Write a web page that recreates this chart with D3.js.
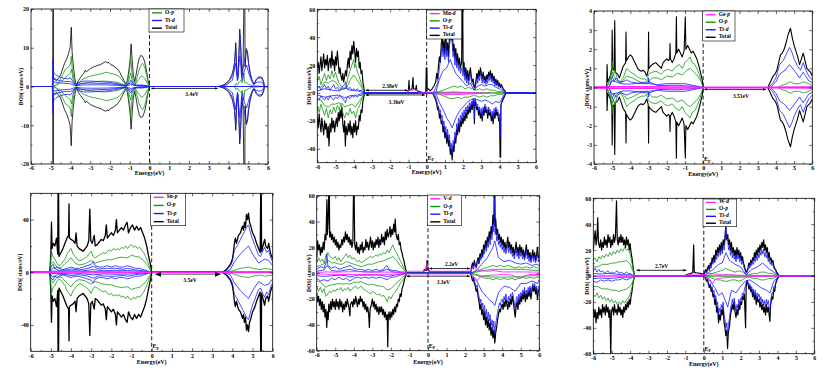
<!DOCTYPE html>
<html>
<head>
<meta charset="utf-8">
<script src="https://cdn.jsdelivr.net/npm/d3@7"></script>
<style>
body { margin: 0; background: #fff; }
svg { display: block; }
text { font-family: "Liberation Serif", "Times New Roman", serif; font-weight: bold; }
</style>
</head>
<body>
<script>
const W = 831, H = 378

// ---- energies shared by every panel (eV)
const xTicks = [-6,-5,-4,-3,-2,-1,0,1,2,3,4,5,6]
const xMinor = [-5.5,-4.5,-3.5,-2.5,-1.5,-0.5,0.5,1.5,2.5,3.5,4.5,5.5]

// ---- panel 1 : TiO2 (non magnetic, spin down mirrors spin up)
const p1Total = [[-6,0],[-4.9,0],[-4.89,30],[-4.87,30],[-4.86,2],[-4.7,1.5],[-4.6,2.2],[-4.5,3],[-4.4,4.5],[-4.3,6],[-4.2,7],[-4.1,8.5],[-4.02,10],[-3.96,15.3],[-3.92,9],[-3.85,5],[-3.78,2],[-3.7,0.4],[-3.6,1.5],[-3.5,2.3],[-3.4,3],[-3.3,3.6],[-3.25,4.2],[-3.2,3.8],[-3.1,4.2],[-3.0,4.6],[-2.9,4.9],[-2.8,5.1],[-2.7,5.3],[-2.6,5.5],[-2.5,5.6],[-2.4,5.9],[-2.3,6.2],[-2.22,6.4],[-2.15,6.1],[-2.05,6.2],[-1.95,5.6],[-1.85,5.4],[-1.75,5.0],[-1.6,4.4],[-1.5,3.6],[-1.4,2.6],[-1.3,1.6],[-1.2,0.7],[-1.12,1.5],[-1.05,4],[-0.98,7],[-0.93,11],[-0.88,7],[-0.82,3],[-0.75,1.2],[-0.68,3],[-0.6,5.5],[-0.52,7.2],[-0.45,8],[-0.35,7.8],[-0.25,6.5],[-0.15,4],[-0.07,1.5],[0,0],[3.5,0],[3.7,0.3],[3.9,0.9],[4.05,1.8],[4.2,3.5],[4.3,6],[4.37,11.3],[4.42,4],[4.47,2],[4.52,8],[4.57,14.8],[4.62,10],[4.68,3],[4.74,6],[4.8,30],[4.82,30],[4.84,5],[4.9,9.8],[4.96,9],[5.02,6],[5.1,3.5],[5.2,1.5],[5.3,0.6],[5.4,1.8],[5.5,2.4],[5.6,2.5],[5.7,2.3],[5.78,1.2],[5.82,0],[6,0]]
const p1Op = [[-6,0],[-4.85,0],[-4.7,0.6],[-4.55,1.5],[-4.4,3],[-4.25,4.5],[-4.1,5],[-4.0,5.8],[-3.96,7.8],[-3.9,4],[-3.8,1.5],[-3.7,0.2],[-3.6,0.9],[-3.45,1.6],[-3.3,2.1],[-3.1,2.5],[-2.9,2.8],[-2.7,3.0],[-2.5,3.2],[-2.3,3.5],[-2.15,3.7],[-2.0,3.4],[-1.8,3.2],[-1.6,2.8],[-1.45,2.1],[-1.3,1.1],[-1.2,0.3],[-1.1,1.5],[-1.0,4.5],[-0.95,7.5],[-0.9,4],[-0.82,1.5],[-0.72,0.6],[-0.62,2.5],[-0.52,4.5],[-0.42,5.6],[-0.35,6],[-0.25,5],[-0.15,3],[-0.05,0.8],[0,0],[4.3,0],[4.38,0.8],[4.45,0.4],[4.55,1.2],[4.62,1.5],[4.7,1],[4.78,3.5],[4.82,1],[4.9,1],[5.0,0.6],[5.2,0.2],[5.8,0],[6,0]]
const p1Op2 = [[-6,0],[-4.85,0],[-4.7,0.4],[-4.5,1.0],[-4.3,2.2],[-4.15,2.8],[-4.0,3.5],[-3.95,4.5],[-3.88,2],[-3.78,0.6],[-3.7,0.1],[-3.5,0.6],[-3.2,1.0],[-2.8,1.2],[-2.4,1.4],[-2.0,1.3],[-1.6,1.0],[-1.3,0.4],[-1.15,0.2],[-1.0,2.5],[-0.95,3.5],[-0.88,1.5],[-0.75,0.3],[-0.55,1.8],[-0.4,2.8],[-0.25,2.2],[-0.1,0.8],[0,0],[6,0]]
const p1Tid = [[-6,0],[-4.92,0],[-4.9,7],[-4.88,7],[-4.85,3.5],[-4.75,3],[-4.6,2.6],[-4.45,2.3],[-4.3,2.1],[-4.15,2],[-4.0,2.2],[-3.9,1.5],[-3.75,0.5],[-3.65,0.8],[-3.5,1.2],[-3.3,1.4],[-3.0,1.4],[-2.7,1.3],[-2.4,1.2],[-2.1,1.1],[-1.8,0.9],[-1.5,0.6],[-1.25,0.3],[-1.1,0.5],[-0.95,1.7],[-0.85,0.8],[-0.7,0.3],[-0.4,0.4],[-0.1,0.2],[0,0],[3.5,0],[3.7,0.2],[3.9,0.7],[4.05,1.4],[4.2,2.8],[4.3,5],[4.37,10],[4.42,3.5],[4.47,1.8],[4.52,7],[4.58,13.5],[4.63,9],[4.68,2.5],[4.75,5],[4.82,7],[4.9,9.3],[4.96,8.5],[5.02,5.5],[5.1,3],[5.2,1.3],[5.3,0.5],[5.4,1.6],[5.5,2.1],[5.6,2.2],[5.7,2],[5.78,1],[5.82,0],[6,0]]
const p1Tid2 = [[-6,0],[-4.9,0],[-4.85,2.2],[-4.6,1.6],[-4.3,1.3],[-4.0,1.3],[-3.85,0.8],[-3.72,0.3],[-3.5,0.8],[-3.0,0.9],[-2.5,0.8],[-2.0,0.7],[-1.5,0.4],[-1.2,0.2],[-0.95,1.0],[-0.8,0.4],[-0.4,0.25],[0,0],[3.6,0],[3.9,0.4],[4.2,1.6],[4.36,6],[4.45,1.5],[4.58,8],[4.68,1.5],[4.8,4],[4.92,5.5],[5.05,3],[5.25,0.6],[5.5,1.2],[5.7,1.1],[5.82,0],[6,0]]
const p1Tid3 = [[-6,0],[-4.9,0],[-4.85,1.2],[-4.5,0.9],[-4.0,0.7],[-3.75,0.2],[-3.4,0.4],[-2.8,0.45],[-2.2,0.4],[-1.6,0.3],[-1.2,0.1],[-0.95,0.5],[-0.6,0.15],[0,0],[6,0]]

// ---- panel 2 : Mn doped (spin polarised)
const p2TotalUp = [[-6,18],[-5.95,22],[-5.9,14],[-5.85,20],[-5.8,26],[-5.75,16],[-5.7,22],[-5.65,28],[-5.6,18],[-5.55,24],[-5.5,20],[-5.45,27],[-5.4,16],[-5.35,22],[-5.3,25],[-5.25,18],[-5.2,30],[-5.15,20],[-5.1,24],[-5.05,16],[-5.0,26],[-4.95,20],[-4.9,30],[-4.85,22],[-4.8,14],[-4.75,18],[-4.7,12],[-4.65,9],[-4.6,14],[-4.55,8],[-4.5,12],[-4.45,16],[-4.4,12],[-4.35,20],[-4.3,25],[-4.25,18],[-4.2,30],[-4.15,24],[-4.1,34],[-4.05,28],[-4.0,37],[-3.95,30],[-3.9,22],[-3.85,32],[-3.8,26],[-3.75,30],[-3.7,18],[-3.65,22],[-3.6,14],[-3.55,16],[-3.5,8],[-3.45,4],[-3.4,0],[-1.05,0],[-1.0,2],[-0.97,9],[-0.94,2],[-0.8,3],[-0.75,11],[-0.72,3],[-0.6,2.5],[-0.57,5.5],[-0.54,2],[-0.45,1],[-0.05,0],[-0.02,18],[0.01,18],[0.03,2],[0.1,3],[0.2,1.5],[0.3,3],[0.4,5],[0.5,8],[0.55,14],[0.6,10],[0.65,20],[0.7,26],[0.75,22],[0.8,35],[0.85,40],[0.9,30],[0.95,38],[1.0,28],[1.05,42],[1.1,30],[1.15,36],[1.2,26],[1.25,40],[1.3,45],[1.35,38],[1.4,48],[1.45,30],[1.5,35],[1.55,25],[1.6,32],[1.65,22],[1.7,28],[1.75,20],[1.8,25],[1.85,18],[1.92,22],[1.95,65],[1.98,65],[2.0,15],[2.05,22],[2.1,12],[2.15,18],[2.2,10],[2.25,16],[2.3,9],[2.35,14],[2.4,18],[2.45,12],[2.5,8],[2.55,10],[2.6,5],[2.65,4],[2.7,8],[2.75,14],[2.8,10],[2.85,16],[2.9,12],[2.95,18],[3.0,14],[3.05,10],[3.1,15],[3.15,9],[3.2,12],[3.25,8],[3.3,13],[3.35,10],[3.4,15],[3.45,12],[3.5,16],[3.55,10],[3.6,14],[3.65,9],[3.7,12],[3.75,7],[3.8,10],[3.85,6],[3.9,9],[3.95,5],[4.0,7],[4.05,4],[4.1,6],[4.2,3],[4.3,1.5],[4.35,0],[6,0]]
const p2TotalDown = [[-6,-18],[-5.95,-25],[-5.9,-15],[-5.85,-22],[-5.8,-28],[-5.75,-18],[-5.7,-24],[-5.65,-30],[-5.6,-20],[-5.55,-26],[-5.5,-22],[-5.45,-32],[-5.4,-24],[-5.36,-38],[-5.3,-22],[-5.25,-28],[-5.2,-18],[-5.15,-25],[-5.1,-20],[-5.05,-28],[-5.0,-22],[-4.95,-18],[-4.9,-24],[-4.85,-14],[-4.8,-20],[-4.75,-12],[-4.7,-18],[-4.65,-10],[-4.6,-22],[-4.55,-28],[-4.5,-20],[-4.46,-38],[-4.42,-24],[-4.35,-30],[-4.3,-22],[-4.25,-28],[-4.2,-20],[-4.15,-30],[-4.1,-24],[-4.05,-32],[-4.0,-22],[-3.95,-28],[-3.9,-20],[-3.85,-30],[-3.8,-24],[-3.75,-26],[-3.7,-16],[-3.65,-20],[-3.6,-12],[-3.55,-14],[-3.5,-6],[-3.45,-3],[-3.4,0],[0.3,0],[0.4,-2],[0.5,-5],[0.55,-8],[0.6,-12],[0.65,-10],[0.7,-18],[0.75,-15],[0.8,-22],[0.85,-20],[0.9,-28],[0.95,-24],[1.0,-32],[1.05,-28],[1.1,-36],[1.15,-30],[1.2,-38],[1.25,-34],[1.3,-44],[1.35,-40],[1.4,-48],[1.45,-38],[1.5,-42],[1.55,-32],[1.6,-36],[1.65,-26],[1.7,-30],[1.75,-22],[1.8,-28],[1.85,-20],[1.9,-24],[1.95,-18],[2.0,-22],[2.05,-16],[2.1,-20],[2.15,-14],[2.2,-18],[2.25,-12],[2.3,-15],[2.35,-10],[2.4,-14],[2.45,-8],[2.5,-12],[2.55,-6],[2.6,-10],[2.62,-22],[2.65,-5],[2.7,-8],[2.75,-12],[2.8,-10],[2.85,-16],[2.9,-12],[2.95,-18],[3.0,-14],[3.05,-20],[3.1,-12],[3.15,-16],[3.2,-10],[3.25,-14],[3.3,-12],[3.35,-18],[3.4,-12],[3.45,-16],[3.5,-14],[3.55,-20],[3.6,-16],[3.65,-22],[3.7,-14],[3.75,-18],[3.8,-12],[3.85,-16],[3.9,-14],[3.95,-20],[4.0,-18],[4.03,-46],[4.06,-46],[4.08,-8],[4.15,-6],[4.25,-3],[4.35,0],[6,0]]
const p2OpUp = [[-6,8],[-5.9,12],[-5.8,6],[-5.7,10],[-5.6,14],[-5.5,9],[-5.4,13],[-5.3,10],[-5.2,16],[-5.1,11],[-5.0,15],[-4.9,10],[-4.8,7],[-4.7,5],[-4.6,4],[-4.5,3],[-4.4,6],[-4.3,12],[-4.2,16],[-4.1,20],[-4.0,24],[-3.95,18],[-3.9,21],[-3.8,15],[-3.7,12],[-3.6,7],[-3.5,4],[-3.4,0],[0.5,0],[0.7,1],[0.9,2],[1.1,3],[1.3,4],[1.5,5],[1.7,4],[1.9,5],[2.1,3],[2.3,4],[2.5,3],[2.7,2],[2.9,3],[3.1,2],[3.3,3],[3.5,2],[3.7,2],[3.9,1],[4.1,1],[4.35,0],[6,0]]
const p2OpDown = [[-6,-9],[-5.9,-14],[-5.8,-8],[-5.7,-12],[-5.6,-16],[-5.5,-11],[-5.4,-18],[-5.3,-12],[-5.2,-15],[-5.1,-10],[-5.0,-14],[-4.9,-9],[-4.8,-12],[-4.7,-8],[-4.6,-14],[-4.5,-18],[-4.4,-14],[-4.3,-16],[-4.2,-11],[-4.1,-15],[-4.0,-13],[-3.9,-18],[-3.8,-12],[-3.7,-10],[-3.6,-6],[-3.5,-3],[-3.4,0],[0.5,0],[0.7,-1],[0.9,-2],[1.1,-3],[1.3,-4],[1.5,-4],[1.7,-3],[1.9,-4],[2.1,-3],[2.3,-3],[2.5,-2],[2.7,-2],[2.9,-3],[3.1,-2],[3.3,-3],[3.5,-2],[3.7,-2],[3.9,-1],[4.1,-1],[4.35,0],[6,0]]
const p2Op2Up = [[-6,5],[-5.8,4],[-5.6,8],[-5.4,7],[-5.2,9],[-5.0,8],[-4.8,4],[-4.6,2.5],[-4.4,3.5],[-4.2,9],[-4.0,13],[-3.9,11],[-3.7,7],[-3.5,2],[-3.4,0],[6,0]]
const p2Op2Down = [[-6,-5],[-5.8,-5],[-5.6,-9],[-5.4,-10],[-5.2,-8],[-5.0,-8],[-4.8,-7],[-4.6,-8],[-4.5,-10],[-4.3,-9],[-4.1,-8],[-3.9,-10],[-3.7,-6],[-3.5,-2],[-3.4,0],[6,0]]
const p2TidUp = [[-6,3],[-5.9,5],[-5.8,2],[-5.7,4],[-5.6,6],[-5.5,3],[-5.4,5],[-5.3,2],[-5.2,4],[-5.1,6],[-5.0,3],[-4.9,4],[-4.8,2],[-4.7,3],[-4.6,5],[-4.5,6],[-4.45,8],[-4.4,4],[-4.3,3],[-4.2,4],[-4.1,2],[-4.0,3],[-3.9,2],[-3.8,3],[-3.7,1.5],[-3.6,2],[-3.5,1],[-3.4,0],[0.3,0],[0.4,1],[0.5,4],[0.6,7],[0.7,18],[0.8,28],[0.85,33],[0.9,26],[0.95,32],[1.0,24],[1.05,36],[1.1,26],[1.15,30],[1.2,22],[1.25,34],[1.3,38],[1.35,42],[1.4,36],[1.45,26],[1.5,30],[1.55,20],[1.6,27],[1.65,18],[1.7,23],[1.75,16],[1.8,20],[1.85,14],[1.9,18],[2.0,12],[2.05,18],[2.1,9],[2.15,14],[2.2,7],[2.25,12],[2.3,6],[2.35,10],[2.4,14],[2.45,9],[2.5,6],[2.55,7],[2.6,3],[2.65,2],[2.7,6],[2.75,11],[2.8,7],[2.85,12],[2.9,9],[2.95,14],[3.0,11],[3.05,7],[3.1,12],[3.15,7],[3.2,9],[3.25,6],[3.3,10],[3.35,7],[3.4,12],[3.45,9],[3.5,13],[3.55,8],[3.6,11],[3.65,7],[3.7,9],[3.75,5],[3.8,8],[3.85,5],[3.9,7],[3.95,4],[4.0,5],[4.1,4],[4.2,2],[4.3,1],[4.35,0],[6,0]]
const p2TidDown = [[-6,-3],[-5.9,-5],[-5.8,-2],[-5.7,-4],[-5.6,-5],[-5.5,-3],[-5.4,-5],[-5.3,-2],[-5.2,-4],[-5.1,-5],[-5.0,-3],[-4.9,-4],[-4.8,-2],[-4.7,-3],[-4.6,-4],[-4.5,-6],[-4.45,-7],[-4.4,-4],[-4.3,-3],[-4.2,-4],[-4.1,-2],[-4.0,-3],[-3.9,-2],[-3.8,-3],[-3.7,-1.5],[-3.6,-2],[-3.5,-1],[-3.4,0],[0.4,0],[0.5,-3],[0.6,-8],[0.7,-14],[0.75,-12],[0.8,-18],[0.85,-16],[0.9,-24],[0.95,-20],[1.0,-28],[1.05,-24],[1.1,-32],[1.15,-26],[1.2,-34],[1.25,-30],[1.3,-40],[1.35,-36],[1.4,-44],[1.45,-34],[1.5,-38],[1.55,-28],[1.6,-32],[1.65,-22],[1.7,-26],[1.75,-18],[1.8,-24],[1.85,-16],[1.9,-20],[1.95,-14],[2.0,-18],[2.05,-12],[2.1,-16],[2.15,-10],[2.2,-14],[2.25,-9],[2.3,-12],[2.35,-7],[2.4,-11],[2.45,-6],[2.5,-9],[2.55,-4],[2.6,-7],[2.62,-18],[2.65,-4],[2.7,-6],[2.75,-9],[2.8,-8],[2.85,-13],[2.9,-10],[2.95,-15],[3.0,-11],[3.05,-17],[3.1,-10],[3.15,-13],[3.2,-8],[3.25,-11],[3.3,-10],[3.35,-15],[3.4,-10],[3.45,-13],[3.5,-12],[3.55,-17],[3.6,-13],[3.65,-19],[3.7,-11],[3.75,-15],[3.8,-10],[3.85,-13],[3.9,-12],[3.95,-17],[4.0,-15],[4.03,-32],[4.06,-10],[4.15,-5],[4.25,-2],[4.35,0],[6,0]]
const p2Tid2Up = [[-6,1.5],[-5.6,3],[-5.2,2],[-4.8,1.5],[-4.5,3.5],[-4.2,2],[-3.8,1.5],[-3.4,0],[0.5,0],[0.7,10],[0.9,16],[1.1,18],[1.3,24],[1.4,20],[1.6,14],[1.8,11],[2.0,8],[2.2,5],[2.4,7],[2.6,2],[2.8,5],[3.0,6],[3.2,5],[3.4,6],[3.6,6],[3.8,4],[4.0,3],[4.3,0],[6,0]]
const p2Tid2Down = [[-6,-1.5],[-5.6,-3],[-5.2,-2],[-4.8,-1.5],[-4.5,-3.5],[-4.2,-2],[-3.8,-1.5],[-3.4,0],[0.5,0],[0.7,-7],[0.9,-12],[1.1,-18],[1.3,-22],[1.4,-25],[1.6,-18],[1.8,-13],[2.0,-10],[2.2,-7],[2.4,-5],[2.6,-4],[2.8,-5],[3.0,-6],[3.2,-5],[3.4,-6],[3.6,-8],[3.8,-6],[4.0,-7],[4.3,0],[6,0]]
const p2MnUp = [[-1.05,0],[-1.0,1.5],[-0.95,2.8],[-0.9,1.8],[-0.85,2.5],[-0.8,1.5],[-0.75,3],[-0.7,2],[-0.65,2.8],[-0.6,1.5],[-0.55,2.5],[-0.5,0.5],[-0.45,0],[0,0],[0.02,3],[0.05,0],[0.3,0.5],[0.6,1],[1.0,0.5],[1.5,0.8],[2.0,0.5],[2.5,0.3],[3,0]]
const p2MnDown = [[0.3,0],[0.5,-0.5],[1.0,-1],[1.5,-1.2],[2.0,-1],[2.5,-0.6],[3.0,-0.2],[3.5,0]]

// ---- panel 3 : Ge doped (non magnetic)
const p3Total = [[-6,0],[-5.3,0],[-5.28,1.2],[-5.25,0.3],[-5.1,0.6],[-5.02,1.0],[-5.0,3.0],[-4.98,1.0],[-4.9,0.9],[-4.86,3.5],[-4.83,0.8],[-4.7,0.7],[-4.6,0.5],[-4.5,0.8],[-4.4,1.1],[-4.26,1.3],[-4.24,2.9],[-4.22,1.4],[-4.1,1.6],[-4.0,1.7],[-3.9,1.6],[-3.8,1.4],[-3.7,1.2],[-3.6,1.0],[-3.5,0.9],[-3.4,0.85],[-3.3,0.9],[-3.2,0.8],[-3.1,0.6],[-3.02,0.9],[-3.0,2.9],[-2.98,1.0],[-2.9,1.1],[-2.8,1.2],[-2.7,1.25],[-2.6,1.3],[-2.5,1.2],[-2.4,1.1],[-2.3,1.0],[-2.2,1.3],[-2.1,1.4],[-2.0,1.5],[-1.9,1.4],[-1.84,1.5],[-1.82,2.3],[-1.8,1.5],[-1.7,1.3],[-1.6,1.5],[-1.5,1.8],[-1.47,3.7],[-1.45,1.8],[-1.35,2.0],[-1.25,1.8],[-1.15,1.6],[-1.05,1.9],[-0.98,3.7],[-0.95,2.0],[-0.85,2.2],[-0.75,2.0],[-0.65,1.8],[-0.55,1.9],[-0.45,1.7],[-0.35,1.5],[-0.25,1.2],[-0.15,0.8],[-0.05,0.4],[0,0],[3.55,0],[3.65,0.2],[3.75,0.4],[3.85,0.6],[3.95,0.7],[4.05,0.9],[4.15,1.3],[4.25,1.7],[4.35,1.8],[4.45,2.0],[4.55,2.3],[4.65,2.7],[4.8,3.1],[4.9,2.6],[5.0,2.2],[5.1,1.9],[5.2,1.6],[5.3,1.2],[5.4,1.5],[5.5,1.8],[5.6,1.4],[5.7,1.0],[5.8,0.9],[5.9,0.8],[6,0.6]]
const p3Op = [[-6,0],[-5.3,0],[-5.1,0.4],[-5.0,1.4],[-4.95,0.6],[-4.85,0.9],[-4.7,0.4],[-4.55,0.3],[-4.4,0.5],[-4.2,1.0],[-4.0,0.8],[-3.8,0.7],[-3.6,0.55],[-3.4,0.45],[-3.2,0.45],[-3.1,0.35],[-3.0,0.7],[-2.8,0.8],[-2.6,0.85],[-2.4,0.75],[-2.3,0.7],[-2.1,0.9],[-1.9,0.95],[-1.7,0.85],[-1.5,1.1],[-1.3,1.2],[-1.15,1.0],[-1.0,1.3],[-0.8,1.5],[-0.72,1.6],[-0.6,1.3],[-0.45,1.2],[-0.3,0.9],[-0.15,0.5],[0,0],[4.1,0],[4.3,0.1],[4.6,0.2],[4.8,0.3],[5.0,0.2],[5.3,0.2],[5.5,0.3],[5.8,0.2],[6,0.1]]
const p3Op2 = [[-6,0],[-5.3,0],[-5.0,0.8],[-4.8,0.4],[-4.55,0.2],[-4.2,0.6],[-3.9,0.5],[-3.5,0.3],[-3.1,0.2],[-2.8,0.5],[-2.5,0.5],[-2.3,0.4],[-2.0,0.6],[-1.7,0.55],[-1.4,0.75],[-1.15,0.65],[-0.9,0.9],[-0.7,1.0],[-0.5,0.8],[-0.3,0.6],[-0.1,0.3],[0,0],[6,0]]
const p3Tid = [[-6,0],[-5.2,0],[-5.1,0.2],[-5.0,0.6],[-4.9,0.3],[-4.8,0.5],[-4.6,0.3],[-4.4,0.3],[-4.2,0.4],[-4.0,0.3],[-3.5,0.2],[-3.02,0.2],[-3.0,0.5],[-2.98,0.2],[-2.5,0.15],[-2.0,0.2],[-1.5,0.2],[-1.0,0.2],[-0.5,0.1],[0,0],[3.6,0],[3.8,0.2],[4.0,0.5],[4.2,1.2],[4.4,1.4],[4.6,1.8],[4.75,2.1],[4.9,1.8],[5.0,1.5],[5.2,1.1],[5.35,0.9],[5.5,1.3],[5.65,0.9],[5.8,0.6],[6,0.4]]
const p3Tid2 = [[-6,0],[-5.2,0],[-5.0,0.35],[-4.8,0.3],[-4.4,0.18],[-4.0,0.18],[-3.0,0.3],[-2.5,0.1],[-1.5,0.12],[-0.5,0.06],[0,0],[3.7,0],[4.0,0.3],[4.2,0.7],[4.5,0.9],[4.75,1.2],[5.0,0.9],[5.3,0.5],[5.5,0.8],[5.8,0.35],[6,0.25]]
const p3Ge = [[-6,0.03],[-5,0.05],[-3,0.04],[0,0.02],[3.5,0.02],[6,0.03]]

// ---- panel 4 : Sn doped (non magnetic)
const p4Total = [[-6,0],[-5.05,0],[-5.0,15],[-4.97,38],[-4.94,18],[-4.88,22],[-4.8,20],[-4.72,26],[-4.66,14],[-4.64,70],[-4.62,70],[-4.6,12],[-4.5,15],[-4.4,18],[-4.3,22],[-4.2,26],[-4.12,28],[-4.1,52],[-4.08,26],[-4.0,25],[-3.9,24],[-3.8,22],[-3.75,30],[-3.7,20],[-3.6,18],[-3.5,17],[-3.4,16],[-3.3,18],[-3.2,20],[-3.12,24],[-3.07,48],[-3.02,24],[-2.95,22],[-2.85,28],[-2.8,20],[-2.7,21],[-2.6,23],[-2.5,25],[-2.4,24],[-2.3,28],[-2.25,36],[-2.2,26],[-2.1,28],[-2.0,30],[-1.9,28],[-1.8,32],[-1.75,40],[-1.7,30],[-1.6,32],[-1.5,34],[-1.4,32],[-1.3,36],[-1.22,38],[-1.15,30],[-1.05,34],[-0.95,36],[-0.85,32],[-0.75,35],[-0.65,32],[-0.55,34],[-0.45,30],[-0.35,26],[-0.25,20],[-0.15,12],[-0.05,5],[0,0],[3.5,0],[3.6,1],[3.7,2],[3.8,4],[3.9,6],[4.0,10],[4.05,15],[4.1,22],[4.15,26],[4.2,22],[4.3,28],[4.4,30],[4.5,35],[4.55,32],[4.6,38],[4.65,34],[4.7,44],[4.75,40],[4.8,45],[4.85,38],[4.9,36],[5.0,30],[5.1,27],[5.2,22],[5.3,18],[5.38,15],[5.41,70],[5.43,70],[5.45,16],[5.55,22],[5.6,25],[5.65,20],[5.75,18],[5.8,22],[5.9,14],[6,10]]
const p4Op = [[-6,0],[-5.05,0],[-5.0,10],[-4.97,16],[-4.9,12],[-4.8,10],[-4.7,7],[-4.6,5],[-4.5,6],[-4.4,8],[-4.3,10],[-4.2,14],[-4.1,16],[-4.0,18],[-3.9,14],[-3.8,12],[-3.7,10],[-3.6,9],[-3.5,9],[-3.4,10],[-3.3,11],[-3.2,12],[-3.1,14],[-3.0,16],[-2.9,12],[-2.8,11],[-2.7,12],[-2.6,13],[-2.5,14],[-2.4,15],[-2.3,14],[-2.2,16],[-2.1,17],[-2.0,16],[-1.9,18],[-1.8,17],[-1.7,18],[-1.6,17],[-1.5,19],[-1.4,18],[-1.3,20],[-1.2,18],[-1.1,20],[-1.0,21],[-0.9,19],[-0.8,20],[-0.7,18],[-0.6,19],[-0.5,17],[-0.4,15],[-0.3,12],[-0.2,8],[-0.1,4],[0,0],[3.6,0],[3.8,0.5],[4.0,1],[4.2,2],[4.4,3],[4.6,3.5],[4.8,4],[5.0,3],[5.2,2.5],[5.4,2],[5.6,3],[5.8,2.5],[6,2]]
const p4Op2 = [[-6,0],[-5.05,0],[-5.0,6],[-4.9,8],[-4.7,4],[-4.5,3.5],[-4.2,8],[-4.0,11],[-3.8,7],[-3.6,5.5],[-3.3,6.5],[-3.0,9],[-2.8,7],[-2.5,8.5],[-2.2,9.5],[-2.0,9.5],[-1.7,11],[-1.5,11.5],[-1.2,11],[-1.0,13],[-0.8,12],[-0.6,11.5],[-0.4,9],[-0.2,5],[0,0],[6,0]]
const p4Tip = [[-6,0],[-5.05,0],[-5.0,4],[-4.9,6],[-4.8,3],[-4.7,4],[-4.6,3],[-4.4,2],[-4.2,3],[-4.0,4],[-3.8,3],[-3.6,3],[-3.4,4],[-3.2,5],[-3.0,6],[-2.9,8],[-2.8,5],[-2.6,4],[-2.4,4],[-2.2,5],[-2.0,4],[-1.8,5],[-1.6,4],[-1.4,4],[-1.2,5],[-1.0,4],[-0.8,3],[-0.6,3],[-0.4,2],[-0.2,1],[0,0],[3.5,0],[3.6,0.8],[3.7,1.6],[3.8,3],[3.9,5],[4.0,8],[4.1,17],[4.2,19],[4.3,22],[4.4,25],[4.5,28],[4.6,31],[4.7,34],[4.8,36],[4.9,30],[5.0,25],[5.1,21],[5.2,17],[5.3,13],[5.4,12],[5.5,16],[5.6,19],[5.7,15],[5.8,17],[5.9,11],[6,8]]
const p4Tip2 = [[-6,0],[-5.05,0],[-5.0,2],[-4.9,3.5],[-4.6,1.5],[-4.2,1.8],[-4.0,2.5],[-3.6,1.8],[-3.2,2.8],[-2.9,4.5],[-2.6,2.5],[-2.2,3],[-1.8,3],[-1.4,2.4],[-1.2,3],[-0.8,1.8],[-0.4,1.2],[0,0],[3.6,0],[3.9,2],[4.1,8],[4.4,14],[4.8,20],[5.0,14],[5.3,7],[5.6,10],[5.8,9],[6,5]]
const p4Tip3 = [[-6,0],[-5.05,0],[-5.0,1],[-4.6,0.8],[-4.0,1.2],[-3.5,1],[-2.9,2],[-2.4,1.2],[-1.8,1.5],[-1.2,1.4],[-0.6,0.8],[0,0],[6,0]]
const p4Sn = [[-6,0.3],[-3,0.4],[0,0.2],[3,0.2],[6,0.3]]

// ---- panel 5 : V doped (spin polarised)
const p5TotalUp = [[-6,12],[-5.95,25],[-5.9,18],[-5.85,22],[-5.8,14],[-5.75,20],[-5.7,16],[-5.65,24],[-5.6,18],[-5.55,30],[-5.5,26],[-5.45,57],[-5.42,30],[-5.38,40],[-5.34,70],[-5.32,70],[-5.3,28],[-5.25,32],[-5.2,26],[-5.15,30],[-5.1,24],[-5.05,28],[-5.0,22],[-4.95,26],[-4.9,20],[-4.85,24],[-4.8,18],[-4.75,22],[-4.7,20],[-4.65,26],[-4.6,22],[-4.55,28],[-4.5,24],[-4.45,32],[-4.4,26],[-4.35,30],[-4.3,24],[-4.25,28],[-4.2,22],[-4.15,26],[-4.1,20],[-4.05,24],[-4.01,70],[-3.99,70],[-3.95,22],[-3.9,18],[-3.85,24],[-3.8,16],[-3.75,20],[-3.7,15],[-3.65,22],[-3.6,18],[-3.55,24],[-3.5,16],[-3.45,20],[-3.4,18],[-3.35,26],[-3.3,20],[-3.25,24],[-3.2,18],[-3.15,22],[-3.1,28],[-3.05,20],[-3.0,25],[-2.95,18],[-2.9,24],[-2.85,20],[-2.8,26],[-2.75,22],[-2.7,28],[-2.65,20],[-2.6,26],[-2.55,22],[-2.5,30],[-2.45,24],[-2.4,28],[-2.35,22],[-2.3,32],[-2.25,26],[-2.2,34],[-2.15,28],[-2.1,30],[-2.05,36],[-2.0,28],[-1.95,34],[-1.9,30],[-1.85,38],[-1.8,32],[-1.77,42],[-1.72,30],[-1.65,26],[-1.6,30],[-1.55,22],[-1.5,24],[-1.45,18],[-1.4,16],[-1.35,12],[-1.3,10],[-1.25,6],[-1.2,3],[-1.15,0],[-0.25,0],[-0.2,3],[-0.1,2],[-0.05,10],[0,3],[0.1,1],[2.3,1],[2.35,5],[2.4,8],[2.45,4],[2.5,10],[2.55,6],[2.6,5],[2.65,9],[2.7,12],[2.75,8],[2.8,15],[2.85,12],[2.9,18],[2.95,14],[3.0,22],[3.05,18],[3.1,25],[3.15,20],[3.2,28],[3.25,24],[3.3,32],[3.35,26],[3.4,36],[3.45,30],[3.5,45],[3.55,38],[3.58,70],[3.6,70],[3.62,36],[3.65,42],[3.7,30],[3.75,34],[3.8,26],[3.85,30],[3.9,24],[3.95,28],[4.0,22],[4.05,26],[4.1,20],[4.15,24],[4.2,18],[4.25,22],[4.3,28],[4.35,20],[4.4,24],[4.45,18],[4.5,22],[4.55,16],[4.6,20],[4.65,14],[4.7,18],[4.75,24],[4.8,16],[4.85,20],[4.9,14],[4.95,22],[5.0,16],[5.05,20],[5.1,14],[5.15,18],[5.2,12],[5.25,16],[5.3,22],[5.35,14],[5.4,18],[5.45,12],[5.5,16],[5.55,10],[5.6,14],[5.65,18],[5.7,12],[5.75,16],[5.8,10],[5.85,14],[5.9,20],[5.95,12],[6,14]]
const p5TotalDown = [[-6,-15],[-5.95,-22],[-5.9,-18],[-5.85,-25],[-5.8,-20],[-5.75,-28],[-5.7,-22],[-5.65,-30],[-5.6,-24],[-5.55,-34],[-5.5,-28],[-5.46,-42],[-5.42,-30],[-5.38,-36],[-5.35,-24],[-5.3,-30],[-5.25,-22],[-5.2,-28],[-5.15,-20],[-5.1,-26],[-5.05,-22],[-5.0,-28],[-4.95,-20],[-4.9,-26],[-4.85,-22],[-4.8,-28],[-4.75,-20],[-4.7,-26],[-4.65,-22],[-4.6,-30],[-4.55,-24],[-4.5,-28],[-4.45,-22],[-4.4,-26],[-4.35,-20],[-4.3,-24],[-4.25,-28],[-4.21,-33],[-4.18,-24],[-4.1,-22],[-4.05,-26],[-4.0,-20],[-3.95,-24],[-3.9,-18],[-3.85,-22],[-3.8,-26],[-3.75,-20],[-3.7,-24],[-3.65,-18],[-3.6,-22],[-3.55,-20],[-3.5,-26],[-3.45,-22],[-3.4,-28],[-3.35,-24],[-3.3,-30],[-3.25,-26],[-3.2,-32],[-3.16,-42],[-3.12,-28],[-3.05,-24],[-3.0,-20],[-2.95,-26],[-2.9,-22],[-2.85,-28],[-2.8,-24],[-2.75,-30],[-2.7,-26],[-2.65,-32],[-2.6,-26],[-2.55,-30],[-2.5,-26],[-2.45,-32],[-2.4,-28],[-2.35,-34],[-2.3,-30],[-2.25,-36],[-2.2,-32],[-2.17,-57],[-2.14,-34],[-2.1,-30],[-2.05,-36],[-2.0,-30],[-1.95,-34],[-1.9,-28],[-1.85,-32],[-1.8,-26],[-1.75,-30],[-1.7,-24],[-1.65,-26],[-1.6,-20],[-1.55,-22],[-1.5,-16],[-1.45,-18],[-1.4,-12],[-1.35,-10],[-1.3,-7],[-1.25,-4],[-1.2,-2],[-1.15,0],[2.3,0],[2.35,-3],[2.4,-6],[2.45,-4],[2.5,-8],[2.55,-10],[2.6,-14],[2.65,-12],[2.7,-18],[2.75,-22],[2.8,-28],[2.85,-24],[2.9,-32],[2.95,-28],[3.0,-36],[3.05,-30],[3.1,-40],[3.15,-34],[3.2,-42],[3.25,-36],[3.3,-44],[3.35,-38],[3.4,-48],[3.45,-42],[3.5,-50],[3.55,-44],[3.6,-54],[3.65,-46],[3.7,-42],[3.75,-36],[3.8,-32],[3.85,-28],[3.9,-30],[3.95,-26],[4.0,-24],[4.05,-28],[4.1,-22],[4.15,-26],[4.2,-20],[4.25,-24],[4.3,-28],[4.35,-22],[4.4,-26],[4.45,-20],[4.5,-24],[4.55,-18],[4.6,-22],[4.65,-28],[4.7,-34],[4.75,-26],[4.8,-22],[4.85,-28],[4.9,-20],[4.95,-24],[5.0,-18],[5.05,-22],[5.1,-16],[5.15,-20],[5.2,-14],[5.25,-22],[5.3,-16],[5.35,-20],[5.4,-14],[5.45,-18],[5.5,-12],[5.55,-20],[5.6,-14],[5.65,-10],[5.7,-14],[5.75,-10],[5.8,-16],[5.85,-12],[5.9,-20],[5.95,-14],[6,-12]]
const p5OpUp = [[-6,8],[-5.9,12],[-5.8,9],[-5.7,11],[-5.6,8],[-5.5,14],[-5.4,16],[-5.3,13],[-5.2,12],[-5.1,11],[-5.0,13],[-4.9,10],[-4.8,12],[-4.7,9],[-4.6,11],[-4.5,13],[-4.4,15],[-4.3,12],[-4.2,14],[-4.1,11],[-4.0,12],[-3.9,10],[-3.8,9],[-3.7,10],[-3.6,8],[-3.5,9],[-3.4,10],[-3.3,11],[-3.2,12],[-3.1,13],[-3.0,12],[-2.9,13],[-2.8,14],[-2.7,13],[-2.6,15],[-2.5,14],[-2.4,16],[-2.3,15],[-2.2,18],[-2.1,16],[-2.0,19],[-1.9,22],[-1.8,18],[-1.7,16],[-1.6,13],[-1.5,10],[-1.4,7],[-1.3,4],[-1.2,2],[-1.15,0],[2.3,0],[2.5,1],[2.7,2],[2.9,3],[3.1,4],[3.3,5],[3.5,6],[3.7,5],[3.9,6],[4.1,5],[4.3,6],[4.5,5],[4.7,4],[4.9,5],[5.1,4],[5.3,5],[5.5,4],[5.7,5],[5.9,4],[6,3]]
const p5OpDown = [[-6,-10],[-5.9,-14],[-5.8,-11],[-5.7,-15],[-5.6,-12],[-5.5,-18],[-5.4,-16],[-5.3,-14],[-5.2,-15],[-5.1,-13],[-5.0,-14],[-4.9,-12],[-4.8,-13],[-4.7,-11],[-4.6,-14],[-4.5,-12],[-4.4,-13],[-4.3,-11],[-4.2,-14],[-4.1,-12],[-4.0,-11],[-3.9,-10],[-3.8,-12],[-3.7,-11],[-3.6,-10],[-3.5,-12],[-3.4,-13],[-3.3,-14],[-3.2,-15],[-3.1,-16],[-3.0,-14],[-2.9,-15],[-2.8,-16],[-2.7,-17],[-2.6,-16],[-2.5,-18],[-2.4,-17],[-2.3,-19],[-2.2,-22],[-2.1,-18],[-2.0,-20],[-1.9,-17],[-1.8,-15],[-1.7,-13],[-1.6,-11],[-1.5,-8],[-1.4,-6],[-1.3,-4],[-1.2,-2],[-1.15,0],[2.3,0],[2.5,-1],[2.7,-2],[2.9,-3],[3.1,-4],[3.3,-4],[3.5,-5],[3.7,-4],[3.9,-5],[4.1,-4],[4.3,-5],[4.5,-4],[4.7,-5],[4.9,-4],[5.1,-3],[5.3,-4],[5.5,-3],[5.7,-4],[5.9,-3],[6,-3]]
const p5Op2Up = [[-6,5],[-5.8,6],[-5.5,8],[-5.4,10],[-5.2,8],[-5.0,8],[-4.8,7],[-4.6,7],[-4.4,9],[-4.2,8],[-4.0,7],[-3.8,6],[-3.6,5],[-3.4,6],[-3.2,7],[-3.0,7],[-2.8,8],[-2.6,9],[-2.4,9.5],[-2.2,11],[-2.0,12],[-1.9,13],[-1.7,10],[-1.5,6],[-1.3,2.5],[-1.15,0],[2.3,0],[3.0,2],[3.5,3],[4.0,3],[4.5,3],[5.0,3],[5.5,2.5],[6,2]]
const p5Op2Down = [[-6,-6],[-5.8,-7],[-5.5,-11],[-5.4,-10],[-5.2,-9],[-5.0,-8.5],[-4.8,-8],[-4.6,-8.5],[-4.4,-8],[-4.2,-8.5],[-4.0,-7],[-3.8,-7],[-3.6,-6.5],[-3.4,-8],[-3.2,-9],[-3.0,-8.5],[-2.8,-9.5],[-2.6,-10],[-2.4,-10.5],[-2.2,-13],[-2.0,-12],[-1.8,-9],[-1.6,-6.5],[-1.4,-3.5],[-1.2,-1.2],[-1.15,0],[2.3,0],[3.0,-2.5],[3.5,-3],[4.0,-3],[4.5,-3],[5.0,-2.5],[5.5,-2],[6,-2]]
const p5TipUp = [[-6,3],[-5.8,5],[-5.6,4],[-5.5,8],[-5.45,15],[-5.4,6],[-5.2,4],[-5.0,5],[-4.8,3],[-4.6,4],[-4.4,5],[-4.2,6],[-4.0,4],[-3.8,3],[-3.6,3],[-3.4,2],[-3.2,3],[-3.0,2],[-2.8,3],[-2.6,2],[-2.4,3],[-2.22,6],[-2.1,3],[-1.9,2],[-1.7,2],[-1.5,1],[-1.3,1],[-1.15,0],[2.3,0],[2.35,4],[2.4,6],[2.45,3],[2.5,8],[2.55,5],[2.6,4],[2.65,7],[2.7,10],[2.75,7],[2.8,13],[2.85,10],[2.9,15],[2.95,12],[3.0,19],[3.05,15],[3.1,22],[3.15,17],[3.2,24],[3.25,20],[3.3,28],[3.35,22],[3.4,31],[3.45,26],[3.5,38],[3.55,32],[3.58,58],[3.62,30],[3.65,36],[3.7,25],[3.75,29],[3.8,22],[3.85,25],[3.9,20],[3.95,24],[4.0,18],[4.05,22],[4.1,16],[4.15,20],[4.2,15],[4.25,18],[4.3,23],[4.35,16],[4.4,20],[4.45,15],[4.5,18],[4.55,13],[4.6,16],[4.65,11],[4.7,15],[4.75,19],[4.8,13],[4.85,16],[4.9,11],[4.95,18],[5.0,13],[5.05,16],[5.1,11],[5.15,14],[5.2,10],[5.25,13],[5.3,18],[5.35,11],[5.4,14],[5.45,9],[5.5,13],[5.55,8],[5.6,11],[5.65,14],[5.7,9],[5.75,13],[5.8,8],[5.85,11],[5.9,16],[5.95,9],[6,11]]
const p5TipDown = [[-6,-4],[-5.8,-6],[-5.6,-5],[-5.4,-6],[-5.2,-4],[-5.0,-5],[-4.8,-3],[-4.6,-5],[-4.4,-4],[-4.21,-6],[-4.0,-4],[-3.8,-3],[-3.6,-4],[-3.4,-3],[-3.2,-4],[-3.0,-3],[-2.8,-4],[-2.6,-3],[-2.4,-4],[-2.2,-5],[-2.0,-3],[-1.8,-3],[-1.6,-2],[-1.4,-1],[-1.15,0],[2.3,0],[2.35,-2],[2.4,-5],[2.45,-3],[2.5,-6],[2.55,-8],[2.6,-11],[2.65,-9],[2.7,-15],[2.75,-18],[2.8,-23],[2.85,-20],[2.9,-27],[2.95,-23],[3.0,-30],[3.05,-25],[3.1,-34],[3.15,-28],[3.2,-36],[3.25,-30],[3.3,-37],[3.35,-32],[3.4,-41],[3.45,-36],[3.5,-43],[3.55,-37],[3.6,-47],[3.65,-39],[3.7,-35],[3.75,-30],[3.8,-27],[3.85,-23],[3.9,-25],[3.95,-21],[4.0,-20],[4.05,-23],[4.1,-18],[4.15,-21],[4.2,-16],[4.25,-20],[4.3,-23],[4.35,-18],[4.4,-21],[4.45,-16],[4.5,-20],[4.55,-15],[4.6,-18],[4.65,-23],[4.7,-28],[4.75,-21],[4.8,-18],[4.85,-23],[4.9,-16],[4.95,-20],[5.0,-15],[5.05,-18],[5.1,-13],[5.15,-16],[5.2,-11],[5.25,-18],[5.3,-13],[5.35,-16],[5.4,-11],[5.45,-15],[5.5,-10],[5.55,-16],[5.6,-11],[5.65,-8],[5.7,-11],[5.75,-8],[5.8,-13],[5.85,-10],[5.9,-16],[5.95,-11],[6,-10]]
const p5Tip2Up = [[-6,1.5],[-5.6,2.5],[-5.45,6],[-5.2,2],[-4.8,1.5],[-4.4,2.5],[-4.2,3],[-3.8,1.5],[-3.4,1],[-3.0,1],[-2.6,1],[-2.22,3],[-1.9,1],[-1.5,0.5],[-1.15,0],[2.3,0],[2.6,2],[2.9,7],[3.2,12],[3.5,20],[3.6,25],[3.8,12],[4.1,9],[4.4,10],[4.7,8],[5.0,7],[5.3,8],[5.6,6],[5.9,7],[6,5]]
const p5Tip2Down = [[-6,-2],[-5.6,-2.5],[-5.2,-2],[-4.8,-1.5],[-4.4,-2],[-4.21,-3],[-3.8,-1.5],[-3.4,-1.5],[-3.0,-1.5],[-2.6,-1.5],[-2.2,-2.5],[-1.8,-1.5],[-1.4,-0.5],[-1.15,0],[2.3,0],[2.6,-5],[2.9,-14],[3.2,-19],[3.5,-23],[3.6,-25],[3.8,-15],[4.1,-10],[4.4,-11],[4.7,-14],[5.0,-8],[5.3,-8],[5.6,-6],[5.9,-8],[6,-5]]
const p5VUp = [[-6,0.5],[-5.5,1],[-5,0.8],[-4.5,1],[-4,1.2],[-3,1],[-2,0.8],[-1.2,0.5],[-1.1,1.5],[-0.2,1.5],[-0.1,4],[-0.05,8],[0,2],[0.1,1.5],[2.3,1.5],[2.4,4],[2.5,6],[2.6,3],[2.8,2],[3.2,1.5],[3.6,2],[4,1],[5,1],[6,0.8]]
const p5VDown = [[-6,-0.5],[-5,-1],[-4,-1],[-3,-1],[-2,-0.8],[-1.2,-0.5],[2.3,-0.5],[2.4,-2],[2.5,-4],[2.6,-6],[2.7,-5],[2.8,-3],[3.0,-2],[3.5,-1.5],[4.0,-1],[4.5,-1.5],[4.8,-3],[5.0,-4],[5.2,-2],[5.5,-1],[6,-1]]

// ---- panel 6 : W doped (spin polarised)
const p6TotalUp = [[-6,20],[-5.95,28],[-5.9,35],[-5.85,24],[-5.8,30],[-5.76,45],[-5.72,26],[-5.65,22],[-5.6,28],[-5.55,20],[-5.5,26],[-5.45,22],[-5.4,30],[-5.35,24],[-5.3,28],[-5.25,22],[-5.2,32],[-5.15,26],[-5.1,30],[-5.05,22],[-5.0,28],[-4.95,24],[-4.9,32],[-4.85,26],[-4.8,30],[-4.74,58],[-4.7,28],[-4.65,24],[-4.6,30],[-4.55,26],[-4.5,32],[-4.45,26],[-4.4,30],[-4.35,24],[-4.3,28],[-4.25,22],[-4.2,30],[-4.15,24],[-4.1,28],[-4.05,20],[-4.0,25],[-3.95,18],[-3.9,14],[-3.85,8],[-3.8,3],[-3.75,0],[-1.0,0],[-0.95,1],[-0.7,2],[-0.6,2.5],[-0.55,24],[-0.52,3],[-0.4,2.5],[-0.2,2],[0,1.5],[0.05,3],[0.1,5],[0.15,3],[0.2,6],[0.25,8],[0.3,5],[0.35,10],[0.4,8],[0.45,14],[0.5,11],[0.55,16],[0.6,12],[0.65,20],[0.7,16],[0.75,22],[0.8,18],[0.85,24],[0.9,19],[0.95,26],[1.0,20],[1.05,28],[1.1,24],[1.15,30],[1.19,38],[1.23,28],[1.3,32],[1.35,24],[1.4,28],[1.45,20],[1.5,26],[1.55,18],[1.6,22],[1.65,16],[1.7,20],[1.75,14],[1.8,22],[1.85,16],[1.9,20],[1.95,14],[2.0,18],[2.05,12],[2.1,15],[2.15,10],[2.2,8],[2.25,5],[2.3,3],[2.35,4],[2.4,6],[2.45,10],[2.5,8],[2.55,12],[2.6,10],[2.65,14],[2.7,12],[2.75,18],[2.8,14],[2.85,20],[2.9,16],[2.95,22],[3.0,18],[3.05,24],[3.1,20],[3.15,26],[3.2,22],[3.25,28],[3.3,20],[3.35,24],[3.4,18],[3.45,22],[3.5,14],[3.55,18],[3.6,12],[3.65,14],[3.7,10],[3.75,12],[3.8,8],[3.85,6],[3.9,5],[3.95,3],[4.0,2],[4.1,0],[6,0]]
const p6TotalDown = [[-6,-25],[-5.95,-32],[-5.9,-26],[-5.85,-36],[-5.8,-28],[-5.75,-33],[-5.7,-24],[-5.65,-30],[-5.6,-26],[-5.55,-32],[-5.5,-22],[-5.45,-28],[-5.4,-24],[-5.35,-30],[-5.3,-22],[-5.25,-28],[-5.2,-24],[-5.15,-32],[-5.1,-26],[-5.05,-62],[-5.02,-28],[-4.95,-24],[-4.9,-30],[-4.85,-22],[-4.8,-28],[-4.75,-26],[-4.7,-30],[-4.65,-22],[-4.6,-28],[-4.55,-24],[-4.5,-30],[-4.45,-26],[-4.4,-32],[-4.35,-24],[-4.3,-28],[-4.25,-22],[-4.2,-26],[-4.15,-20],[-4.1,-24],[-4.05,-18],[-4.0,-22],[-3.95,-16],[-3.9,-12],[-3.85,-6],[-3.8,-2],[-3.75,0],[0.05,0],[0.1,-2],[0.15,-4],[0.2,-3],[0.25,-6],[0.3,-9],[0.35,-7],[0.4,-12],[0.45,-10],[0.5,-16],[0.55,-14],[0.6,-22],[0.65,-18],[0.7,-28],[0.75,-24],[0.8,-36],[0.85,-30],[0.9,-34],[0.95,-26],[1.0,-30],[1.05,-24],[1.1,-36],[1.15,-40],[1.2,-46],[1.25,-42],[1.29,-56],[1.33,-44],[1.4,-38],[1.45,-30],[1.5,-26],[1.55,-22],[1.6,-26],[1.65,-20],[1.7,-28],[1.75,-32],[1.8,-26],[1.85,-30],[1.9,-22],[1.95,-26],[2.0,-20],[2.05,-22],[2.1,-16],[2.15,-18],[2.2,-14],[2.27,-40],[2.3,-8],[2.35,-4],[2.4,-6],[2.45,-10],[2.5,-8],[2.55,-12],[2.6,-10],[2.65,-16],[2.7,-12],[2.75,-18],[2.8,-14],[2.85,-22],[2.9,-16],[2.95,-20],[3.0,-18],[3.05,-24],[3.1,-20],[3.15,-26],[3.2,-22],[3.25,-28],[3.3,-24],[3.35,-30],[3.4,-22],[3.45,-28],[3.5,-24],[3.55,-30],[3.59,-35],[3.63,-22],[3.7,-16],[3.75,-18],[3.8,-10],[3.85,-12],[3.9,-6],[3.95,-4],[4.0,-2],[4.1,0],[6,0]]
const p6OpUp = [[-6,12],[-5.9,14],[-5.8,11],[-5.7,15],[-5.6,13],[-5.5,16],[-5.4,14],[-5.3,17],[-5.2,15],[-5.1,18],[-5.0,16],[-4.9,19],[-4.8,17],[-4.7,20],[-4.6,18],[-4.5,21],[-4.4,19],[-4.3,22],[-4.2,20],[-4.1,21],[-4.0,17],[-3.9,10],[-3.8,3],[-3.75,0],[0.1,0],[0.3,1],[0.5,2],[0.7,3],[0.9,4],[1.1,5],[1.2,6],[1.3,5],[1.5,4],[1.7,3],[1.9,4],[2.1,3],[2.3,1],[2.5,1],[2.7,2],[2.9,2],[3.1,3],[3.3,3],[3.5,2],[3.7,2],[3.9,1],[4.1,0],[6,0]]
const p6OpDown = [[-6,-14],[-5.9,-16],[-5.8,-13],[-5.7,-17],[-5.6,-15],[-5.5,-18],[-5.4,-16],[-5.3,-19],[-5.2,-17],[-5.1,-20],[-5.0,-18],[-4.9,-21],[-4.8,-19],[-4.7,-22],[-4.6,-20],[-4.5,-22],[-4.4,-19],[-4.3,-21],[-4.2,-18],[-4.1,-17],[-4.0,-14],[-3.9,-9],[-3.8,-3],[-3.75,0],[0.1,0],[0.3,-1],[0.5,-2],[0.7,-3],[0.9,-3],[1.1,-4],[1.3,-4],[1.5,-3],[1.7,-3],[1.9,-4],[2.1,-3],[2.3,-1],[2.5,-1],[2.7,-2],[2.9,-2],[3.1,-3],[3.3,-3],[3.5,-2],[3.7,-2],[3.9,-1],[4.1,0],[6,0]]
const p6Op2Up = [[-6,7],[-5.8,7],[-5.5,9],[-5.2,9],[-5.0,10],[-4.8,10],[-4.6,11],[-4.4,11],[-4.2,12],[-4.0,9],[-3.85,4],[-3.75,0],[6,0]]
const p6Op2Down = [[-6,-8],[-5.8,-8],[-5.5,-10],[-5.2,-10],[-5.0,-11],[-4.8,-11],[-4.6,-12],[-4.4,-11],[-4.2,-10],[-4.0,-8],[-3.85,-4],[-3.75,0],[6,0]]
const p6TidUp = [[-6,4],[-5.9,6],[-5.8,3],[-5.7,5],[-5.6,3],[-5.5,4],[-5.4,2],[-5.3,3],[-5.2,4],[-5.1,2],[-5.0,3],[-4.9,2],[-4.8,3],[-4.7,4],[-4.6,2],[-4.5,3],[-4.4,2],[-4.3,2],[-4.2,3],[-4.1,2],[-4.0,2],[-3.9,1],[-3.75,0],[0,0],[0.05,2],[0.1,4],[0.15,2],[0.2,5],[0.25,6],[0.3,4],[0.35,8],[0.4,6],[0.45,11],[0.5,9],[0.55,13],[0.6,10],[0.65,16],[0.7,13],[0.75,18],[0.8,15],[0.85,20],[0.9,16],[0.95,22],[1.0,17],[1.05,24],[1.1,20],[1.15,26],[1.2,40],[1.25,28],[1.3,27],[1.35,20],[1.4,23],[1.45,16],[1.5,21],[1.55,14],[1.6,18],[1.65,13],[1.7,16],[1.75,11],[1.8,17],[1.85,13],[1.9,16],[1.95,11],[2.0,14],[2.05,9],[2.1,12],[2.15,8],[2.2,6],[2.25,4],[2.3,2],[2.35,3],[2.4,5],[2.45,8],[2.5,6],[2.55,10],[2.6,8],[2.65,11],[2.7,9],[2.75,14],[2.8,11],[2.85,16],[2.9,12],[2.95,17],[3.0,14],[3.05,19],[3.1,16],[3.15,20],[3.2,17],[3.25,21],[3.3,15],[3.35,18],[3.4,14],[3.45,17],[3.5,11],[3.55,14],[3.6,9],[3.65,11],[3.7,8],[3.75,9],[3.8,6],[3.85,5],[3.9,4],[3.95,2],[4.0,1],[4.1,0],[6,0]]
const p6TidDown = [[-6,-4],[-5.8,-5],[-5.6,-3],[-5.4,-4],[-5.2,-3],[-5.0,-4],[-4.8,-3],[-4.6,-3],[-4.4,-2],[-4.2,-3],[-4.0,-2],[-3.75,0],[0.05,0],[0.1,-1.5],[0.15,-3],[0.2,-2],[0.25,-5],[0.3,-7],[0.35,-6],[0.4,-10],[0.45,-8],[0.5,-13],[0.55,-11],[0.6,-18],[0.65,-15],[0.7,-23],[0.75,-20],[0.8,-30],[0.85,-25],[0.9,-28],[0.95,-22],[1.0,-25],[1.05,-20],[1.1,-30],[1.15,-34],[1.2,-40],[1.25,-36],[1.29,-48],[1.33,-38],[1.4,-32],[1.45,-25],[1.5,-22],[1.55,-18],[1.6,-22],[1.65,-17],[1.7,-23],[1.75,-27],[1.8,-22],[1.85,-25],[1.9,-18],[1.95,-22],[2.0,-17],[2.05,-18],[2.1,-13],[2.15,-15],[2.2,-11],[2.25,-8],[2.3,-5],[2.35,-3],[2.4,-5],[2.45,-8],[2.5,-6],[2.55,-10],[2.6,-8],[2.65,-13],[2.7,-10],[2.75,-15],[2.8,-11],[2.85,-18],[2.9,-13],[2.95,-16],[3.0,-14],[3.05,-19],[3.1,-16],[3.15,-21],[3.2,-18],[3.25,-23],[3.3,-19],[3.35,-24],[3.4,-18],[3.45,-22],[3.5,-19],[3.55,-24],[3.6,-27],[3.65,-17],[3.7,-13],[3.75,-14],[3.8,-8],[3.85,-9],[3.9,-5],[3.95,-3],[4.0,-2],[4.1,0],[6,0]]
const p6Tid2Up = [[-6,2],[-5.6,1.5],[-5.2,2],[-4.8,1.5],[-4.4,1],[-4.0,1],[-3.75,0],[0,0],[0.2,2],[0.5,5],[0.8,9],[1.0,10],[1.2,18],[1.4,12],[1.7,9],[2.0,7],[2.3,1],[2.6,5],[2.9,7],[3.2,10],[3.5,6],[3.8,3],[4.1,0],[6,0]]
const p6Tid2Down = [[-6,-2],[-5.6,-1.5],[-5.2,-2],[-4.8,-1.5],[-4.4,-1],[-4.0,-1],[-3.75,0],[0.05,0],[0.3,-3],[0.6,-9],[0.8,-15],[1.0,-13],[1.2,-20],[1.3,-24],[1.5,-11],[1.75,-13],[2.0,-8],[2.25,-4],[2.5,-3],[2.8,-6],[3.1,-9],[3.4,-11],[3.6,-13],[3.8,-4],[4.1,0],[6,0]]
const p6WUp = [[-6,0],[-1.0,0],[-0.9,1],[-0.6,1.5],[-0.3,1.5],[0,1],[0.3,2],[0.6,1.5],[1.0,1],[1.5,1],[2.0,0.5],[2.5,0.5],[3,0.5],[3.5,0.3],[4.1,0],[6,0]]
const p6WDown = [[-6,0],[0,0],[0.2,-1],[0.35,-3],[0.45,-6],[0.55,-4],[0.7,-2],[1.0,-1.5],[1.5,-1],[2.0,-1],[2.5,-0.5],[3,-0.5],[3.5,-0.3],[4.1,0],[6,0]]

// legend labels: [plain part, italic orbital]
const p1Legend = [["O-","p"],["Ti-","d"],["Total",""]]
const p2Legend = [["Mn-","d"],["O-","p"],["Ti-","d"],["Total",""]]
const p3Legend = [["Ge-","p"],["O-","p"],["Ti-","d"],["Total",""]]
const p4Legend = [["Sn-","p"],["O-","p"],["Ti-","p"],["Total",""]]
const p5Legend = [["V-","d"],["O-","p"],["Ti-","p"],["Total",""]]
const p6Legend = [["W-","d"],["O-","p"],["Ti-","d"],["Total",""]]

// band gap arrows: [from eV, to eV, at DOS, label]
const p1Gaps = [[0.05,3.5,-0.5,"3.4eV"]]
const p2Gaps = [[-3.4,-1.0,1.9,"2.38eV"],[-3.4,-0.05,-1.4,"3.36eV"]]
const p3Gaps = [[0.02,3.5,-0.1,"3.51eV"]]
const p4Gaps = [[0.15,3.45,-1.5,"3.5eV"]]
const p5Gaps = [[0.02,2.3,3.6,"2.2eV"],[-1.2,2.3,-2.3,"3.3eV"]]
const p6Gaps = [[-3.7,-0.9,4.4,"2.7eV"]]

const flip = a => a.map(d => [d[0], -d[1]])   // non magnetic: spin down = - spin up

const GREEN = "#119911", BLUE = "#1a1aff", MAG = "#ff22ff", BLACK = "#000"

const panels = [
  {id:1, box:[31,9,268,164], yd:[-20,20], yt:[-20,-10,0,10,20], ym:[-15,-5,5,15], ylabX:22, xlabY:174, ef:false, tw:0.8, mw:0.8,
   series:[[BLACK,p1Total,flip(p1Total)],[GREEN,p1Op,flip(p1Op)],[GREEN,p1Op2,flip(p1Op2)],[BLUE,p1Tid,flip(p1Tid)],[BLUE,p1Tid2,flip(p1Tid2)],[BLUE,p1Tid3,flip(p1Tid3)]],
   colors:[GREEN,BLUE,BLACK], legend:p1Legend, lg:[149,9,35,23], gaps:p1Gaps,
   labs:[[2.15,6]]},
  {id:2, box:[317.3,9.3,536,162.7], yd:[-50,60], yt:[-40,-20,0,20,40,60], ym:[-30,-10,10,30,50], ylabX:310, xlabY:173, ef:true, tw:1.15, mw:0.9,
   series:[[BLACK,p2TotalUp,p2TotalDown],[GREEN,p2OpUp,p2OpDown],[GREEN,p2Op2Up,p2Op2Down],[BLUE,p2TidUp,p2TidDown],[BLUE,p2Tid2Up,p2Tid2Down],[MAG,p2MnUp,p2MnDown]],
   colors:[MAG,GREEN,BLUE,BLACK], legend:p2Legend, lg:[426.7,10,35,29], gaps:p2Gaps,
   labs:[[-2.0,-3.5],[-1.65,7.5]]},
  {id:3, box:[594,11,812.3,164], yd:[-4,4], yt:[-4,-3,-2,-1,0,1,2,3,4], ym:[], ylabX:588, xlabY:174.5, ef:true, tw:1.1, mw:1.3,
   series:[[BLACK,p3Total,flip(p3Total)],[GREEN,p3Op,flip(p3Op)],[GREEN,p3Op2,flip(p3Op2)],[BLUE,p3Tid,flip(p3Tid)],[BLUE,p3Tid2,flip(p3Tid2)],[MAG,p3Ge,flip(p3Ge)]],
   colors:[MAG,GREEN,BLUE,BLACK], legend:p3Legend, lg:[702.7,11,32.3,30], gaps:p3Gaps,
   labs:[[2.08,7]]},
  {id:4, box:[30.7,193.3,272.7,351.3], yd:[-60,60], yt:[-40,0,40], ym:[-20,20], ylabX:21, xlabY:363, ef:true, tw:1.3, mw:1.3,
   series:[[BLACK,p4Total,flip(p4Total)],[GREEN,p4Op,flip(p4Op)],[GREEN,p4Op2,flip(p4Op2)],[BLUE,p4Tip,flip(p4Tip)],[BLUE,p4Tip2,flip(p4Tip2)],[BLUE,p4Tip3,flip(p4Tip3)],[MAG,p4Sn,flip(p4Sn)]],
   colors:[MAG,GREEN,BLUE,BLACK], legend:p4Legend, lg:[150.7,193.3,35,32.4], gaps:p4Gaps,
   labs:[[1.9,6.5]], grey:true},
  {id:5, box:[316.7,195.7,539.3,350.7], yd:[-60,60], yt:[-60,-40,-20,0,20,40,60], ym:[-50,-30,-10,10,30,50], ylabX:310, xlabY:363, ef:true, tw:1.2, mw:0.9,
   series:[[BLACK,p5TotalUp,p5TotalDown],[GREEN,p5OpUp,p5OpDown],[GREEN,p5Op2Up,p5Op2Down],[BLUE,p5TipUp,p5TipDown],[BLUE,p5Tip2Up,p5Tip2Down],[MAG,p5VUp,p5VDown]],
   colors:[MAG,GREEN,BLUE,BLACK], legend:p5Legend, lg:[427.3,195,34.4,30.7], gaps:p5Gaps,
   labs:[[1.27,-3.5],[0.83,7]]},
  {id:6, box:[593.3,198.3,814.3,353.7], yd:[-60,60], yt:[-60,-40,-20,0,20,40,60], ym:[-50,-30,-10,10,30,50], ylabX:588, xlabY:364.5, ef:true, tw:1.2, mw:0.9,
   series:[[BLACK,p6TotalUp,p6TotalDown],[GREEN,p6OpUp,p6OpDown],[GREEN,p6Op2Up,p6Op2Down],[BLUE,p6TidUp,p6TidDown],[BLUE,p6Tid2Up,p6Tid2Down],[MAG,p6WUp,p6WDown]],
   colors:[MAG,GREEN,BLUE,BLACK], legend:p6Legend, lg:[703,199,33.7,27.7], gaps:p6Gaps,
   labs:[[-2.29,-3.5]]}
]

const svg = d3.select("body").append("svg")
  .attr("width", W)
  .attr("height", H)

const defs = svg.append("defs")
defs.append("marker")
  .attr("id", "head")
  .attr("viewBox", "0 0 10 10")
  .attr("refX", 9).attr("refY", 5)
  .attr("markerWidth", 4).attr("markerHeight", 4)
  .attr("orient", "auto-start-reverse")
  .append("path")
  .attr("d", "M0,1 L10,5 L0,9 z")
  .attr("fill", "#000")

svg.append("rect").attr("width", W).attr("height", H).attr("fill", "#fff")

let styleAxis = (g, showText) => {
  g.select(".domain").remove()
  g.selectAll("line").attr("stroke", "#000").attr("stroke-width", 0.6)
  g.selectAll("text")
    .attr("font-family", "Liberation Serif, serif")
    .attr("font-weight", "bold")
    .attr("font-size", 6)
    .attr("fill", "#000")
  if (!showText) g.selectAll("text").remove()
}

let drawPanel = function(p) {
  const [l, t, r, b] = p.box
  const x = d3.scaleLinear().domain([-6, 6]).range([l, r])
  const y = d3.scaleLinear().domain(p.yd).range([b, t])
  const g = svg.append("g")

  defs.append("clipPath").attr("id", "clip" + p.id)
    .append("rect").attr("x", l).attr("y", t).attr("width", r - l).attr("height", b - t)

  const plot = g.append("g").attr("clip-path", "url(#clip" + p.id + ")")
  const line = d3.line().x(d => x(d[0])).y(d => y(d[1]))

  p.series.forEach(s => {
    const w = s[0] == BLACK ? p.tw : (s[0] == MAG ? p.mw : 0.8)
    ;[s[1], s[2]].forEach(arr => {
      plot.append("path")
        .datum(arr)
        .attr("d", line)
        .attr("fill", "none")
        .attr("stroke", s[0])
        .attr("stroke-width", w)
        .attr("stroke-linejoin", "round")
    })
  })

  // Fermi level
  plot.append("line")
    .attr("x1", x(0)).attr("x2", x(0))
    .attr("y1", t).attr("y2", b)
    .attr("stroke", "#000")
    .attr("stroke-width", 0.9)
    .attr("stroke-dasharray", "4,2.5")

  // gap arrows
  p.gaps.forEach((a, i) => {
    g.append("line")
      .attr("x1", x(a[0]) + 1).attr("x2", x(a[1]) - 1)
      .attr("y1", y(a[2])).attr("y2", y(a[2]))
      .attr("stroke", p.grey ? "#8a8a8a" : "#000")
      .attr("stroke-width", p.grey ? 1.6 : 0.8)
      .attr("marker-start", "url(#head)")
      .attr("marker-end", "url(#head)")
    g.append("text")
      .attr("x", x(p.labs[i][0]))
      .attr("y", y(a[2]) + p.labs[i][1])
      .attr("text-anchor", "middle")
      .attr("dominant-baseline", "middle")
      .attr("font-size", 5.5)
      .text(a[3])
  })

  // axes, ticks pointing inwards like xmgrace
  g.append("g").attr("transform", "translate(0," + b + ")")
    .call(d3.axisBottom(x).tickValues(xTicks).tickSize(-3).tickPadding(2).tickFormat(d => String(d)))
    .call(a => styleAxis(a, true))
  g.append("g").attr("transform", "translate(0," + b + ")")
    .call(d3.axisBottom(x).tickValues(xMinor).tickSize(-1.5))
    .call(a => styleAxis(a, false))
  g.append("g").attr("transform", "translate(0," + t + ")")
    .call(d3.axisTop(x).tickValues(xTicks).tickSize(-3))
    .call(a => styleAxis(a, false))
  g.append("g").attr("transform", "translate(0," + t + ")")
    .call(d3.axisTop(x).tickValues(xMinor).tickSize(-1.5))
    .call(a => styleAxis(a, false))
  g.append("g").attr("transform", "translate(" + l + ",0)")
    .call(d3.axisLeft(y).tickValues(p.yt).tickSize(-3).tickPadding(2).tickFormat(d => String(d)))
    .call(a => styleAxis(a, true))
  g.append("g").attr("transform", "translate(" + l + ",0)")
    .call(d3.axisLeft(y).tickValues(p.ym).tickSize(-1.5))
    .call(a => styleAxis(a, false))
  g.append("g").attr("transform", "translate(" + r + ",0)")
    .call(d3.axisRight(y).tickValues(p.yt).tickSize(-3))
    .call(a => styleAxis(a, false))
  g.append("g").attr("transform", "translate(" + r + ",0)")
    .call(d3.axisRight(y).tickValues(p.ym).tickSize(-1.5))
    .call(a => styleAxis(a, false))

  g.append("rect")
    .attr("x", l).attr("y", t).attr("width", r - l).attr("height", b - t)
    .attr("fill", "none").attr("stroke", "#000").attr("stroke-width", 0.8)

  // axis titles
  g.append("text")
    .attr("x", (l + r) / 2).attr("y", p.xlabY)
    .attr("text-anchor", "middle").attr("dominant-baseline", "middle")
    .attr("font-size", 6)
    .text("Energy(eV)")
  g.append("text")
    .attr("transform", "translate(" + p.ylabX + "," + ((t + b) / 2) + ") rotate(-90)")
    .attr("text-anchor", "middle").attr("dominant-baseline", "middle")
    .attr("font-size", 5.5)
    .text("DOS( states/eV)")

  if (p.ef) {
    const ef = g.append("text")
      .attr("x", x(0) + 0.8).attr("y", b - 3)
      .attr("font-size", 6)
    ef.append("tspan").text("E")
    ef.append("tspan").attr("font-size", 4.5).attr("dy", 1.5).text("F")
  }

  // legend
  const [lx, ly, lw, lh] = p.lg
  const lgG = g.append("g")
  lgG.append("rect")
    .attr("x", lx).attr("y", ly).attr("width", lw).attr("height", lh)
    .attr("fill", "#fff").attr("stroke", "#000").attr("stroke-width", 0.6)
  const step = lh / p.legend.length
  p.legend.forEach((row, i) => {
    const cy = ly + step * (i + 0.5)
    lgG.append("line")
      .attr("x1", lx + 3).attr("x2", lx + 13)
      .attr("y1", cy).attr("y2", cy)
      .attr("stroke", p.colors[i]).attr("stroke-width", 1.4)
    const tx = lgG.append("text")
      .attr("x", lx + 16).attr("y", cy)
      .attr("dominant-baseline", "middle")
      .attr("font-size", 5.5)
    tx.append("tspan").text(row[0])
    if (row[1]) tx.append("tspan").attr("font-style", "italic").text(row[1])
  })
}

panels.forEach(drawPanel)
</script>
</body>
</html>
